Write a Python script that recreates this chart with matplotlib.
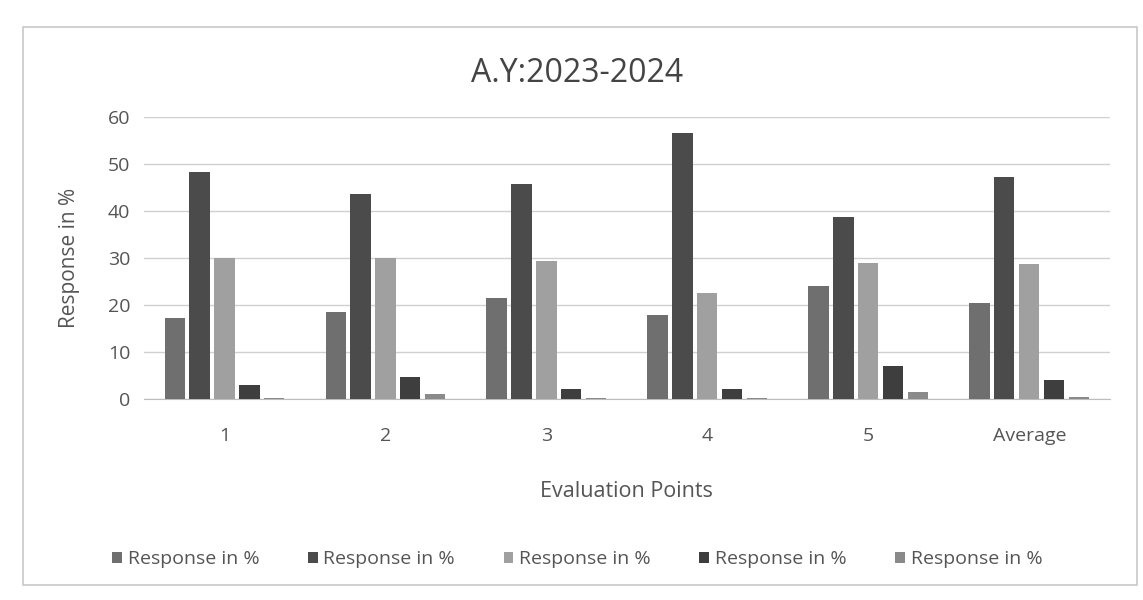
import matplotlib.pyplot as plt
import numpy as np
from matplotlib.patches import Rectangle

plt.rcParams['font.family'] = ['Open Sans', 'DejaVu Sans']

categories = ['1', '2', '3', '4', '5', 'Average']
series_names = ['Response in %'] * 5
s1 = [17.2, 18.5, 21.5, 17.8, 24.0, 20.5]
s2 = [48.2, 43.6, 45.8, 56.5, 38.8, 47.3]
s3 = [30.0, 30.0, 29.3, 22.5, 29.0, 28.7]
s4 = [3.0, 4.7, 2.2, 2.2, 7.0, 4.0]
s5 = [0.2, 1.0, 0.3, 0.3, 1.5, 0.5]
colors = ['#6f6f6f', '#4b4b4b', '#a0a0a0', '#3e3e3e', '#8a8a8a']

fig = plt.figure(figsize=(11.43, 6), dpi=100)
ax = fig.add_axes([0.126, 0.335, 0.845, 0.47])

x = np.arange(len(categories))
step = 0.155
width = 0.125
for i, (vals, name, c) in enumerate(zip([s1, s2, s3, s4, s5], series_names, colors)):
    ax.bar(x + (i - 2) * step, vals, width, color=c, label=name, zorder=3)

ax.set_xlim(-0.5, len(categories) - 0.5)
ax.set_ylim(0, 60)
ax.set_yticks(range(0, 61, 10))
ax.set_xticks(x)
ax.set_xticklabels(categories)
ax.tick_params(length=0, labelsize=14, colors='#555555')
ax.tick_params(axis='x', pad=20)
ax.tick_params(axis='y', pad=10)
ax.grid(axis='y', color='#d0d0d0', linewidth=1, zorder=0)
for s in ['top', 'right', 'left']:
    ax.spines[s].set_visible(False)
ax.spines['bottom'].set_color('#bdbdbd')

ax.set_xlabel('Evaluation Points', fontsize=15.5, color='#555555', labelpad=26)
ax.set_ylabel('Response in %', fontsize=15, color='#555555', labelpad=20)
fig.text(0.505, 0.878, 'A.Y:2023-2024', ha='center', va='center', fontsize=23, color='#444444')

fig.legend(loc='center', bbox_to_anchor=(0.505, 0.068), ncol=5, frameon=False,
           fontsize=14, handlelength=0.5, handleheight=0.5, handletextpad=0.3,
           columnspacing=2.5, labelcolor='#555555')

fig.add_artist(Rectangle((0.02, 0.025), 0.975, 0.93, transform=fig.transFigure,
                         fill=False, edgecolor='#c8c8c8', linewidth=1.2))

fig.savefig('out.png', dpi=100)
